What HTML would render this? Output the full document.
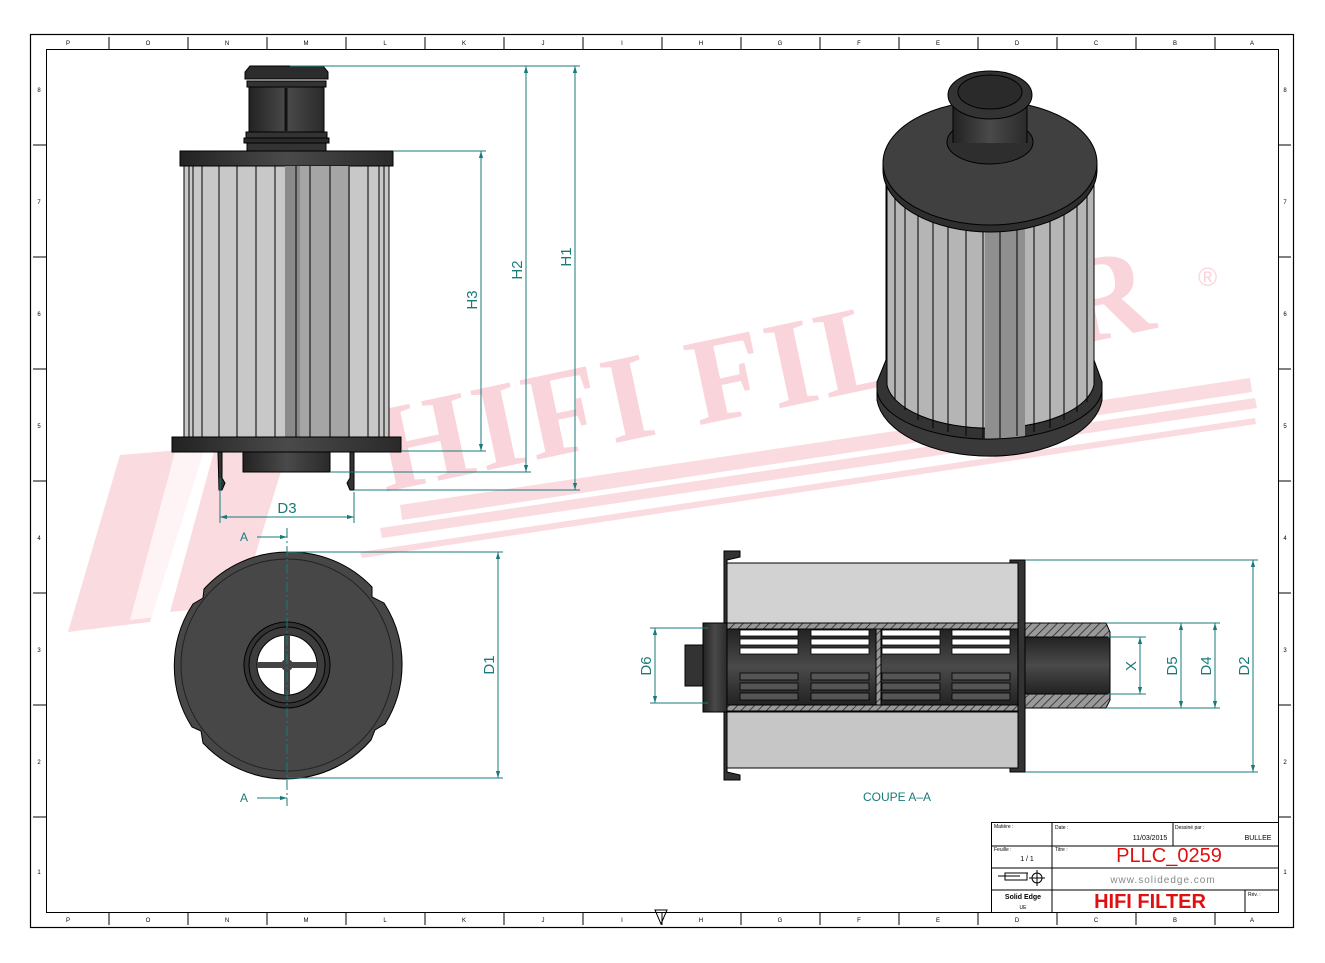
<!DOCTYPE html>
<html><head><meta charset="utf-8"><style>
html,body{margin:0;padding:0;background:#fff}
svg{display:block}
text{font-family:"Liberation Sans",sans-serif}
text.wm{font-family:"Liberation Serif",serif;font-weight:bold}
</style></head><body>
<svg width="1325" height="963" viewBox="0 0 1325 963" xmlns="http://www.w3.org/2000/svg">
<defs>
<linearGradient id="dk" x1="0" x2="1"><stop offset="0" stop-color="#222"/><stop offset="0.5" stop-color="#4a4a4a"/><stop offset="1" stop-color="#2a2a2a"/></linearGradient>
<linearGradient id="dkv" x1="0" y1="0" x2="0" y2="1"><stop offset="0" stop-color="#222"/><stop offset="0.5" stop-color="#4a4a4a"/><stop offset="1" stop-color="#222"/></linearGradient>
<pattern id="hatch" width="6" height="6" patternUnits="userSpaceOnUse" patternTransform="rotate(45)"><rect width="6" height="6" fill="#999"/><line x1="0" y1="0" x2="0" y2="6" stroke="#222" stroke-width="1.5"/></pattern>
<marker id="ar" viewBox="0 0 10 10" refX="10" refY="5" markerWidth="7" markerHeight="7" orient="auto-start-reverse"><path d="M0,2 L10,5 L0,8 z" fill="#1a7a7a"/></marker>
</defs>

<!-- watermark -->
<g fill="#fadbe0">
<polygon points="120,455 205,448 150,622 68,632"/>
<polygon points="175,452 250,446 200,612 130,620" fill="#fff" opacity="0.7"/>
<polygon points="215,448 290,442 240,605 170,612"/>
<polygon points="400,505 1250,378 1252,392 402,520"/>
<polygon points="380,528 1255,398 1257,408 382,538"/>
<polygon points="360,552 1255,418 1256,424 362,558"/>
<text class="wm" x="385" y="492" transform="rotate(-12 385 492)" font-size="124" fill="#f9d4da" letter-spacing="4">HIFI FILTER</text>
<text x="1198" y="286" font-size="26" fill="#f9d4da">®</text>
</g>

<!-- frame -->
<rect x="30.5" y="34.5" width="1263" height="893" fill="none" stroke="#000" stroke-width="1.2"/>
<rect x="46.5" y="49.5" width="1232" height="863" fill="none" stroke="#000"/>
<g stroke="#000" stroke-width="1">
<line x1="109" y1="37" x2="109" y2="49"/><line x1="188" y1="37" x2="188" y2="49"/><line x1="267" y1="37" x2="267" y2="49"/><line x1="346" y1="37" x2="346" y2="49"/><line x1="425" y1="37" x2="425" y2="49"/><line x1="504" y1="37" x2="504" y2="49"/><line x1="583" y1="37" x2="583" y2="49"/><line x1="662" y1="37" x2="662" y2="49"/><line x1="741" y1="37" x2="741" y2="49"/><line x1="820" y1="37" x2="820" y2="49"/><line x1="899" y1="37" x2="899" y2="49"/><line x1="978" y1="37" x2="978" y2="49"/><line x1="1057" y1="37" x2="1057" y2="49"/><line x1="1136" y1="37" x2="1136" y2="49"/><line x1="1215" y1="37" x2="1215" y2="49"/>
<line x1="109" y1="912" x2="109" y2="925"/><line x1="188" y1="912" x2="188" y2="925"/><line x1="267" y1="912" x2="267" y2="925"/><line x1="346" y1="912" x2="346" y2="925"/><line x1="425" y1="912" x2="425" y2="925"/><line x1="504" y1="912" x2="504" y2="925"/><line x1="583" y1="912" x2="583" y2="925"/><line x1="662" y1="912" x2="662" y2="925"/><line x1="741" y1="912" x2="741" y2="925"/><line x1="820" y1="912" x2="820" y2="925"/><line x1="899" y1="912" x2="899" y2="925"/><line x1="978" y1="912" x2="978" y2="925"/><line x1="1057" y1="912" x2="1057" y2="925"/><line x1="1136" y1="912" x2="1136" y2="925"/><line x1="1215" y1="912" x2="1215" y2="925"/>
<line x1="33" y1="145" x2="46" y2="145"/><line x1="33" y1="257" x2="46" y2="257"/><line x1="33" y1="369" x2="46" y2="369"/><line x1="33" y1="481" x2="46" y2="481"/><line x1="33" y1="593" x2="46" y2="593"/><line x1="33" y1="705" x2="46" y2="705"/><line x1="33" y1="817" x2="46" y2="817"/>
<line x1="1278" y1="145" x2="1291" y2="145"/><line x1="1278" y1="257" x2="1291" y2="257"/><line x1="1278" y1="369" x2="1291" y2="369"/><line x1="1278" y1="481" x2="1291" y2="481"/><line x1="1278" y1="593" x2="1291" y2="593"/><line x1="1278" y1="705" x2="1291" y2="705"/><line x1="1278" y1="817" x2="1291" y2="817"/>
</g>
<g font-size="6" fill="#000" text-anchor="middle">
<text x="68" y="45">P</text><text x="148" y="45">O</text><text x="227" y="45">N</text><text x="306" y="45">M</text><text x="385" y="45">L</text><text x="464" y="45">K</text><text x="543" y="45">J</text><text x="622" y="45">I</text><text x="701" y="45">H</text><text x="780" y="45">G</text><text x="859" y="45">F</text><text x="938" y="45">E</text><text x="1017" y="45">D</text><text x="1096" y="45">C</text><text x="1175" y="45">B</text><text x="1252" y="45">A</text>
<text x="68" y="922">P</text><text x="148" y="922">O</text><text x="227" y="922">N</text><text x="306" y="922">M</text><text x="385" y="922">L</text><text x="464" y="922">K</text><text x="543" y="922">J</text><text x="622" y="922">I</text><text x="701" y="922">H</text><text x="780" y="922">G</text><text x="859" y="922">F</text><text x="938" y="922">E</text><text x="1017" y="922">D</text><text x="1096" y="922">C</text><text x="1175" y="922">B</text><text x="1252" y="922">A</text>
<text x="39" y="92">8</text><text x="39" y="204">7</text><text x="39" y="316">6</text><text x="39" y="428">5</text><text x="39" y="540">4</text><text x="39" y="652">3</text><text x="39" y="764">2</text><text x="39" y="874">1</text>
<text x="1285" y="92">8</text><text x="1285" y="204">7</text><text x="1285" y="316">6</text><text x="1285" y="428">5</text><text x="1285" y="540">4</text><text x="1285" y="652">3</text><text x="1285" y="764">2</text><text x="1285" y="874">1</text>
</g>
<polygon points="655,910 667,910 661,924" fill="none" stroke="#000"/>

<!-- FRONT VIEW -->
<g stroke="#000" stroke-width="1">
<polygon points="250,66 323,66 328,72 328,79 245,79 245,72" fill="#2c2c2c"/>
<rect x="247" y="81" width="79" height="6" fill="#333"/>
<rect x="249" y="87" width="75" height="45" fill="url(#dk)"/>
<line x1="286" y1="88" x2="286" y2="131" stroke="#111" stroke-width="3"/>
<rect x="246" y="132" width="81" height="6" fill="#333"/>
<rect x="244" y="138" width="85" height="5" fill="#2a2a2a"/>
<rect x="247" y="143" width="79" height="8" fill="#333"/>
<rect x="180" y="151" width="213" height="15" fill="url(#dk)"/>
<rect x="184" y="166" width="205" height="271" fill="#c8c8c8"/>
<rect x="285" y="166" width="15" height="271" fill="#8a8a8a" stroke="none"/>
<rect x="300" y="166" width="50" height="271" fill="#a5a5a5" stroke="none"/>
</g>
<g stroke="#000" stroke-width="1">
<line x1="189" y1="166" x2="189" y2="437"/><line x1="193" y1="166" x2="193" y2="437"/><line x1="202" y1="166" x2="202" y2="437"/><line x1="219" y1="166" x2="219" y2="437"/><line x1="237" y1="166" x2="237" y2="437"/><line x1="256" y1="166" x2="256" y2="437"/><line x1="275" y1="166" x2="275" y2="437"/><line x1="296" y1="166" x2="296" y2="437"/><line x1="310" y1="166" x2="310" y2="437"/><line x1="330" y1="166" x2="330" y2="437"/><line x1="349" y1="166" x2="349" y2="437"/><line x1="368" y1="166" x2="368" y2="437"/><line x1="379" y1="166" x2="379" y2="437"/><line x1="384" y1="166" x2="384" y2="437"/>
<rect x="172" y="437" width="229" height="15" fill="url(#dk)"/>
<rect x="243" y="452" width="87" height="20" fill="url(#dk)"/>
<polygon points="218,452 222,452 222,478 225,483 222,490 219,490" fill="#333"/>
<polygon points="350,452 354,452 354,490 350,490 347,483 350,478" fill="#333"/>
</g>
<g stroke="#1a7a7a" stroke-width="1" fill="none">
<line x1="290" y1="66" x2="580" y2="66"/><line x1="393" y1="151" x2="486" y2="151"/><line x1="401" y1="451" x2="486" y2="451"/><line x1="330" y1="472" x2="531" y2="472"/><line x1="354" y1="490" x2="580" y2="490"/>
<line x1="575" y1="66" x2="575" y2="490" marker-start="url(#ar)" marker-end="url(#ar)"/>
<line x1="526" y1="66" x2="526" y2="472" marker-start="url(#ar)" marker-end="url(#ar)"/>
<line x1="481" y1="151" x2="481" y2="451" marker-start="url(#ar)" marker-end="url(#ar)"/>
<line x1="220" y1="478" x2="220" y2="523"/><line x1="354" y1="492" x2="354" y2="523"/>
<line x1="220" y1="517" x2="354" y2="517" marker-start="url(#ar)" marker-end="url(#ar)"/>
</g>
<g fill="#1a7a7a" font-size="15" text-anchor="middle">
<text transform="translate(571,257) rotate(-90)">H1</text>
<text transform="translate(522,270) rotate(-90)">H2</text>
<text transform="translate(477,300) rotate(-90)">H3</text>
<text x="287" y="513">D3</text>
</g>

<!-- BOTTOM VIEW -->
<g stroke="#000" stroke-width="1">
<path d="M287,552 A113,113 0 0 1 372,587 L372,597 L384,603 A113,113 0 0 1 385,724 L375,730 L371,740 A113,113 0 0 1 203,743 L201,731 L192,727 A113,113 0 0 1 193,604 L203,598 L204,589 A113,113 0 0 1 287,552 Z" fill="#474747"/>
<circle cx="287" cy="665" r="106" fill="none" stroke="#222"/>
<circle cx="287" cy="665" r="43" fill="#333"/>
<circle cx="287" cy="665" r="38" fill="#3d3d3d"/>
<circle cx="287" cy="665" r="30" fill="#fff"/>
</g>
<g fill="#444"><rect x="284" y="635" width="6" height="60"/><rect x="257" y="662" width="60" height="6"/><circle cx="287" cy="665" r="6"/></g>
<g stroke="#1a7a7a" stroke-width="1" fill="none">
<line x1="287" y1="528" x2="287" y2="806" stroke-dasharray="10,3,2,3"/>
<line x1="257" y1="537" x2="287" y2="537" marker-end="url(#ar)"/>
<line x1="257" y1="798" x2="287" y2="798" marker-end="url(#ar)"/>
<line x1="287" y1="552" x2="503" y2="552"/><line x1="287" y1="778" x2="503" y2="778"/>
<line x1="498" y1="552" x2="498" y2="778" marker-start="url(#ar)" marker-end="url(#ar)"/>
</g>
<g fill="#1a7a7a" font-size="12" text-anchor="middle">
<text x="244" y="541">A</text><text x="244" y="802">A</text>
<text transform="translate(494,665) rotate(-90)" font-size="15">D1</text>
</g>

<!-- SECTION VIEW -->
<g stroke="#000" stroke-width="1">
<rect x="727" y="563" width="297" height="60" fill="#d2d2d2"/>
<rect x="727" y="712" width="297" height="56" fill="#c6c6c6"/>
<polygon points="724,551 740,551 740,557 727,560 727,772 740,775 740,780 724,780" fill="#333"/>
<rect x="727" y="623" width="295" height="6" fill="url(#hatch)"/>
<rect x="727" y="705" width="295" height="6" fill="url(#hatch)"/>
<rect x="703" y="629" width="319" height="76" fill="url(#dkv)"/>
<rect x="703" y="623" width="24" height="89" fill="url(#dk)"/>
<rect x="685" y="645" width="18" height="41" fill="#333"/>
<rect x="876" y="629" width="5" height="76" fill="url(#hatch)"/>
<polygon points="1010,560 1025,560 1025,772 1010,772 1010,768 1018,768 1018,563 1010,563" fill="#333"/>
<polygon points="1025,623 1106,623 1110,632 1110,700 1106,708 1025,708" fill="url(#hatch)"/>
<rect x="1025" y="637" width="85" height="57" fill="url(#dkv)"/>
</g>
<g fill="#fff" stroke="#000" stroke-width="0.8">
<rect x="740" y="630" width="58" height="6"/><rect x="740" y="639" width="58" height="6"/><rect x="740" y="648" width="58" height="6"/>
<rect x="811" y="630" width="58" height="6"/><rect x="811" y="639" width="58" height="6"/><rect x="811" y="648" width="58" height="6"/>
<rect x="882" y="630" width="58" height="6"/><rect x="882" y="639" width="58" height="6"/><rect x="882" y="648" width="58" height="6"/>
<rect x="952" y="630" width="58" height="6"/><rect x="952" y="639" width="58" height="6"/><rect x="952" y="648" width="58" height="6"/>
</g>
<g fill="#555" stroke="#000" stroke-width="0.8">
<rect x="740" y="673" width="58" height="7"/><rect x="740" y="683" width="58" height="7"/><rect x="740" y="693" width="58" height="7"/>
<rect x="811" y="673" width="58" height="7"/><rect x="811" y="683" width="58" height="7"/><rect x="811" y="693" width="58" height="7"/>
<rect x="882" y="673" width="58" height="7"/><rect x="882" y="683" width="58" height="7"/><rect x="882" y="693" width="58" height="7"/>
<rect x="952" y="673" width="58" height="7"/><rect x="952" y="683" width="58" height="7"/><rect x="952" y="693" width="58" height="7"/>
</g>
<g stroke="#1a7a7a" stroke-width="1" fill="none">
<line x1="1025" y1="560" x2="1258" y2="560"/><line x1="1025" y1="772" x2="1258" y2="772"/>
<line x1="1253" y1="560" x2="1253" y2="772" marker-start="url(#ar)" marker-end="url(#ar)"/>
<line x1="1106" y1="623" x2="1220" y2="623"/><line x1="1106" y1="708" x2="1220" y2="708"/>
<line x1="1215" y1="623" x2="1215" y2="708" marker-start="url(#ar)" marker-end="url(#ar)"/>
<line x1="1181" y1="623" x2="1181" y2="708" marker-start="url(#ar)" marker-end="url(#ar)"/>
<line x1="1108" y1="637" x2="1146" y2="637"/><line x1="1108" y1="694" x2="1146" y2="694"/>
<line x1="1140" y1="637" x2="1140" y2="694" marker-start="url(#ar)" marker-end="url(#ar)"/>
<line x1="650" y1="628" x2="708" y2="628"/><line x1="650" y1="703" x2="708" y2="703"/>
<line x1="655" y1="628" x2="655" y2="703" marker-start="url(#ar)" marker-end="url(#ar)"/>
</g>
<g fill="#1a7a7a" font-size="15" text-anchor="middle">
<text transform="translate(1249,666) rotate(-90)">D2</text>
<text transform="translate(1211,666) rotate(-90)">D4</text>
<text transform="translate(1177,666) rotate(-90)">D5</text>
<text transform="translate(1136,666) rotate(-90)">X</text>
<text transform="translate(651,666) rotate(-90)">D6</text>
<text x="897" y="801" font-size="12">COUPE A–A</text>
</g>

<!-- 3D VIEW -->
<g stroke="#000" stroke-width="1">
<path d="M877,390 L877,382 L886,360 L886,170 L1094,170 L1094,360 L1102,382 L1102,392 A113,55 0 0 1 877,392 Z" fill="#333"/>
<path d="M887,170 L1094,170 L1094,385 A104,48 0 0 1 887,385 Z" fill="#b5b5b5"/>
<rect x="985" y="225" width="40" height="215" fill="#8f8f8f" stroke="none"/>
</g>
<g stroke="#000" stroke-width="1">
<line x1="895" y1="190" x2="895" y2="400"/><line x1="905" y1="200" x2="905" y2="410"/><line x1="918" y1="210" x2="918" y2="420"/><line x1="933" y1="215" x2="933" y2="428"/><line x1="948" y1="220" x2="948" y2="432"/><line x1="966" y1="225" x2="966" y2="436"/><line x1="983" y1="228" x2="983" y2="438"/><line x1="1000" y1="228" x2="1000" y2="438"/><line x1="1017" y1="226" x2="1017" y2="436"/><line x1="1034" y1="222" x2="1034" y2="432"/><line x1="1050" y1="218" x2="1050" y2="428"/><line x1="1064" y1="212" x2="1064" y2="420"/><line x1="1077" y1="205" x2="1077" y2="412"/><line x1="1087" y1="195" x2="1087" y2="402"/>
</g>
<g stroke="#000" stroke-width="1">
<path d="M877,392 A113,52 0 0 0 1102,392 L1102,400 A113,62 0 0 1 877,400 Z" fill="#3a3a3a"/>
<path d="M883,163 L883,170 A107,62 0 0 0 1097,170 L1097,163" fill="#2e2e2e"/>
<ellipse cx="990" cy="163" rx="107" ry="62" fill="#404040"/>
<ellipse cx="990" cy="142" rx="43" ry="22" fill="#2e2e2e"/>
<rect x="953" y="95" width="74" height="48" fill="url(#dk)" stroke="none"/>
<line x1="953" y1="95" x2="953" y2="143"/><line x1="1027" y1="95" x2="1027" y2="143"/>
<ellipse cx="990" cy="95" rx="42" ry="24" fill="#333"/>
<ellipse cx="990" cy="92" rx="32" ry="17" fill="#2a2a2a"/>
</g>

<!-- TITLE BLOCK -->
<g stroke="#000" stroke-width="1" fill="none">
<rect x="991.5" y="822.5" width="287" height="90"/>
<line x1="991" y1="846" x2="1278" y2="846"/><line x1="991" y1="868" x2="1278" y2="868"/><line x1="991" y1="890" x2="1278" y2="890"/>
<line x1="1052" y1="822" x2="1052" y2="912"/><line x1="1173" y1="822" x2="1173" y2="846"/><line x1="1245" y1="890" x2="1245" y2="912"/>
<line x1="998" y1="876" x2="1020" y2="876"/><line x1="1020" y1="873" x2="1028" y2="873"/><rect x="1005" y="873" width="22" height="7"/><circle cx="1037" cy="878" r="5"/><line x1="1037" y1="870" x2="1037" y2="886"/><line x1="1029" y1="878" x2="1045" y2="878"/>
</g>
<g font-size="5" fill="#000">
<text x="994" y="828">Matière :</text><text x="1055" y="829">Date :</text><text x="1175" y="829">Dessiné par :</text>
<text x="994" y="851">Feuille :</text><text x="1055" y="851">Titre :</text><text x="1248" y="896">Rév. :</text>
</g>
<g font-size="7" fill="#000" text-anchor="middle">
<text x="1150" y="840">11/03/2015</text><text x="1258" y="840">BULLEE</text><text x="1027" y="861">1 / 1</text>
<text x="1023" y="899" font-weight="bold">Solid Edge</text><text x="1023" y="909" font-size="5">UE</text>
</g>
<text x="1169" y="862" font-size="20" fill="#e01010" text-anchor="middle">PLLC_0259</text>
<text x="1163" y="883" font-size="10" fill="#888" text-anchor="middle" letter-spacing="1">www.solidedge.com</text>
<text x="1150" y="908" font-size="20" font-weight="bold" fill="#e01010" text-anchor="middle">HIFI FILTER</text>
</svg>
</body></html>
